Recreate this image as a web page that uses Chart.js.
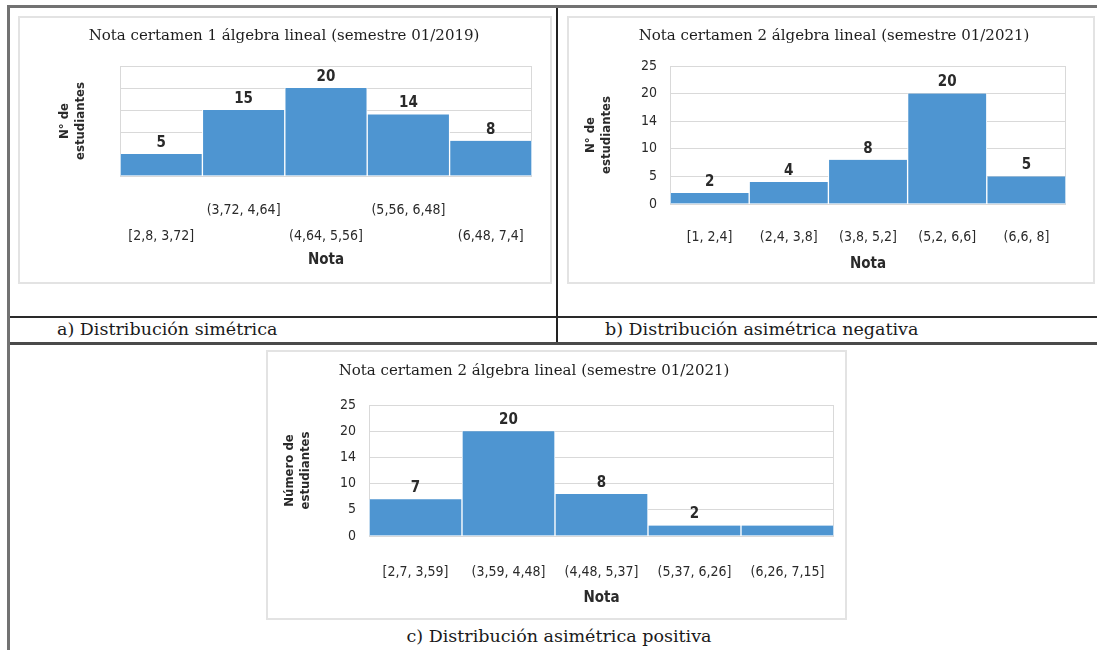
<!DOCTYPE html>
<html>
<head>
<meta charset="utf-8">
<script src="https://cdn.jsdelivr.net/npm/chart.js@4.4.1/dist/chart.umd.min.js"></script>
<style>
  body { margin: 0; width: 1097px; height: 650px; position: relative; background: #fff; overflow: hidden;
         font-family: "DejaVu Serif", serif; color: #222; }
  .ln { position: absolute; }
  .panel { position: absolute; border: 2px solid #e3e3e3; box-sizing: border-box; }
  .panel canvas { position: absolute; left: -2px; top: -2px; }
  .title { position: absolute; white-space: nowrap; transform: translate(-50%, -50%); font-size: 15px; color: #1e1e1e; }
  .caption { position: absolute; white-space: nowrap; transform: translateY(-50%); font-size: 17.5px; color: #1a1a1a; }
</style>
</head>
<body>
<!-- table lines -->
<div class="ln" style="left:7px;top:5px;width:1090px;height:3px;background:#727272"></div>
<div class="ln" style="left:7px;top:5px;width:3px;height:645px;background:#727272"></div>
<div class="ln" style="left:556px;top:8px;width:2px;height:336px;background:#222"></div>
<div class="ln" style="left:10px;top:316px;width:1087px;height:2px;background:#2a2a2a"></div>
<div class="ln" style="left:10px;top:342px;width:1087px;height:3px;background:#4a4a4a"></div>

<div class="panel" style="left:18px;top:16px;width:534px;height:268px"><canvas id="chartA" width="534" height="268"></canvas></div>
<div class="panel" style="left:567px;top:16px;width:528px;height:268px"><canvas id="chartB" width="528" height="268"></canvas></div>
<div class="panel" style="left:266px;top:350px;width:581px;height:270px"><canvas id="chartC" width="581" height="270"></canvas></div>

<div class="title" style="left:284px;top:35px">Nota certamen 1 álgebra lineal (semestre 01/2019)</div>
<div class="title" style="left:834px;top:35px">Nota certamen 2 álgebra lineal (semestre 01/2021)</div>
<div class="title" style="left:534px;top:370px">Nota certamen 2 álgebra lineal (semestre 01/2021)</div>

<div class="caption" style="left:57px;top:329px">a) Distribución simétrica</div>
<div class="caption" style="left:605px;top:329px">b) Distribución asimétrica negativa</div>
<div class="caption" style="left:559px;top:636px;transform:translate(-50%,-50%)">c) Distribución asimétrica positiva</div>

<script>
// chart data
const aLabels = ['[2,8, 3,72]', '(3,72, 4,64]', '(4,64, 5,56]', '(5,56, 6,48]', '(6,48, 7,4]'];
const aValues = [5, 15, 20, 14, 8];

const bLabels = ['[1, 2,4]', '(2,4, 3,8]', '(3,8, 5,2]', '(5,2, 6,6]', '(6,6, 8]'];
const bValues = [2, 4, 8, 20, 5];

const cLabels = ['[2,7, 3,59]', '(3,59, 4,48]', '(4,48, 5,37]', '(5,37, 6,26]', '(6,26, 7,15]'];
const cValues = [7, 20, 8, 2, 2];
const cShown = ['7', '20', '8', '2', ''];

const yTickLabels = ['0', '5', '10', '14', '20', '25'];

const sansFont = '"Liberation Sans Narrow", "DejaVu Sans Condensed", sans-serif';
const textColor = '#2a2a2a';
const barColor = '#4e95d1';

// value above each bar
const valueLabels = {
  id: 'valueLabels',
  afterDatasetsDraw(chart, args, opts) {
    const ctx = chart.ctx;
    const meta = chart.getDatasetMeta(0);
    ctx.save();
    ctx.font = '600 15px ' + sansFont;
    ctx.fillStyle = textColor;
    ctx.textAlign = 'center';
    ctx.textBaseline = 'middle';
    meta.data.forEach((bar, i) => {
      const t = opts.texts ? opts.texts[i] : String(chart.data.datasets[0].data[i]);
      ctx.fillText(t, bar.x, bar.y - 11);
    });
    ctx.restore();
  }
};

// light frame round the plot area
const plotFrame = {
  id: 'plotFrame',
  beforeDatasetsDraw(chart) {
    const {ctx, chartArea: a} = chart;
    ctx.save();
    ctx.strokeStyle = '#d9d9d9';
    ctx.lineWidth = 1;
    ctx.strokeRect(a.left + 0.5, a.top + 0.5, a.right - a.left - 1, a.bottom - a.top);
    ctx.restore();
  }
};

function makeChart(id, s) {
  new Chart(document.getElementById(id), {
    type: 'bar',
    data: {
      labels: s.labels,
      datasets: [{
        data: s.values,
        backgroundColor: barColor,
        borderColor: '#ffffff',
        borderWidth: {left: 1, right: 1, top: 0, bottom: 0},
        borderSkipped: false,
        categoryPercentage: 1,
        barPercentage: 1
      }]
    },
    options: {
      responsive: false,
      animation: false,
      layout: {padding: {left: 0, top: s.top, right: s.right, bottom: 0}},
      plugins: {
        legend: {display: false},
        tooltip: {enabled: false},
        valueLabels: {texts: s.shown}
      },
      scales: {
        x: {
          grid: {display: false},
          border: {display: false},
          ticks: {
            color: textColor,
            font: {family: sansFont, size: 14, lineHeight: s.tickLine},
            padding: s.tickPad,
            maxRotation: 0,
            autoSkip: false,
            callback: s.xTick
          },
          title: {display: true, text: 'Nota', color: textColor,
                  font: {family: sansFont, size: 15, weight: 'bold', lineHeight: 1.2},
                  padding: {top: 0, bottom: s.notaPad}},
          afterFit(scale) { scale.height = s.xHeight; }
        },
        y: {
          min: 0, max: 25,
          grid: {color: '#d9d9d9', drawTicks: false},
          border: {display: false},
          ticks: {
            display: s.yTicks,
            stepSize: 5,
            padding: 13,
            color: textColor,
            font: {family: sansFont, size: 14},
            callback: v => yTickLabels[v / 5]
          },
          title: {display: true, text: s.yTitle, color: textColor,
                  font: {family: sansFont, size: 13, weight: 'bold', lineHeight: '16px'},
                  padding: {top: s.yTitlePad, bottom: 0}},
          afterFit(scale) { scale.width = s.yWidth; }
        }
      }
    },
    plugins: [valueLabels, plotFrame]
  });
}

makeChart('chartA', {
  labels: aLabels, values: aValues,
  top: 50, right: 20, yWidth: 102, xHeight: 108,
  tickPad: 13, tickLine: '26px', notaPad: 15,
  xTick: (v, i) => (i % 2 ? [aLabels[i], ''] : ['', aLabels[i]]),
  yTicks: false, yTitle: ['N° de', 'estudiantes'], yTitlePad: 39
});

makeChart('chartB', {
  labels: bLabels, values: bValues,
  top: 50, right: 29, yWidth: 103, xHeight: 80,
  tickPad: 17, tickLine: 1.2, notaPad: 11,
  xTick: (v, i) => bLabels[i],
  yTicks: true, yTitle: ['N° de', 'estudiantes'], yTitlePad: 16
});

makeChart('chartC', {
  labels: cLabels, values: cValues, shown: cShown,
  top: 55, right: 13, yWidth: 103, xHeight: 84,
  tickPad: 20, tickLine: 1.2, notaPad: 13,
  xTick: (v, i) => cLabels[i],
  yTicks: true, yTitle: ['Número de', 'estudiantes'], yTitlePad: 16
});
</script>
</body>
</html>
